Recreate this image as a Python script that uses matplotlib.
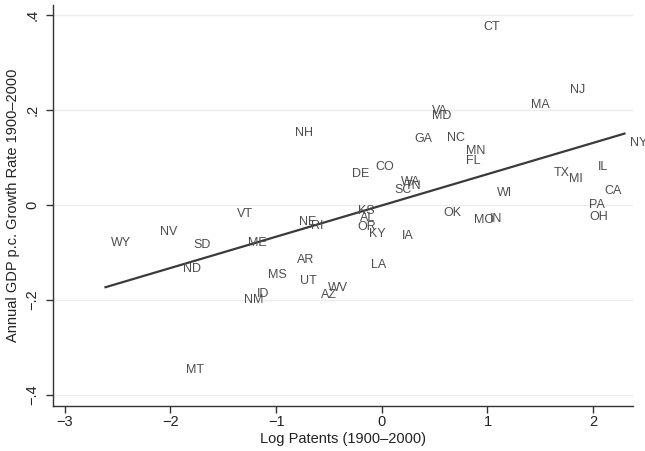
import matplotlib
matplotlib.use("Agg")
import matplotlib.pyplot as plt
import numpy as np

plt.rcParams['font.family'] = ['Liberation Sans', 'DejaVu Sans']

# state labels with log patents (x) and annual GDP p.c. growth (y)
states = ['AL', 'AZ', 'AR', 'CA', 'CO', 'CT', 'DE', 'FL', 'GA', 'ID',
          'IL', 'IN', 'IA', 'KS', 'KY', 'LA', 'ME', 'MD', 'MA', 'MI',
          'MN', 'MS', 'MO', 'MT', 'NE', 'NV', 'NH', 'NJ', 'NM', 'NY',
          'NC', 'ND', 'OH', 'OK', 'OR', 'PA', 'RI', 'SC', 'SD', 'TN',
          'TX', 'UT', 'VT', 'VA', 'WA', 'WV', 'WI', 'WY']
log_patents = [-0.252, -0.621, -0.857, 2.060, -0.112, 0.908, -0.332, 0.745, 0.262, -1.236,
               1.996, 0.972, 0.144, -0.277, -0.170, -0.148, -1.315, 0.430, 1.360, 1.722,
               0.745, -1.126, 0.820, -1.904, -0.833, -2.148, -0.873, 1.735, -1.351, 2.296,
               0.571, -1.930, 1.911, 0.536, -0.277, 1.911, -0.715, 0.066, -1.835, 0.170,
               1.577, -0.826, -1.422, 0.420, 0.130, -0.558, 1.035, -2.614]
growth = [-0.028, -0.190, -0.115, 0.030, 0.080, 0.376, 0.066, 0.093, 0.139, -0.188,
          0.081, -0.030, -0.066, -0.013, -0.061, -0.127, -0.081, 0.188, 0.211, 0.055,
          0.115, -0.148, -0.031, -0.348, -0.036, -0.056, 0.152, 0.243, -0.200, 0.131,
          0.142, -0.135, -0.026, -0.016, -0.047, 0.001, -0.044, 0.032, -0.084, 0.040,
          0.068, -0.160, -0.018, 0.198, 0.049, -0.176, 0.026, -0.081]

xticks = [-3, -2, -1, 0, 1, 2]
yticks = [-0.4, -0.2, 0, 0.2, 0.4]
ytick_labels = ['\u2212.4', '\u2212.2', '0', '.2', '.4']

fig = plt.figure(figsize=(6.45, 4.51), dpi=100)
ax = fig.add_axes([0.0826, 0.1004, 0.8988, 0.8885])

x = np.array(log_patents)
y = np.array(growth)

# linear fit over the data range
slope, intercept = np.polyfit(x, y, 1)
xs = np.array([x.min(), x.max()])
ax.plot(xs, intercept + slope * xs, color='#3a3a3a', lw=1.6, zorder=3)

# labels sit just right of each (invisible) point
for name, xi, yi in zip(states, x, y):
    ax.annotate(name, (xi, yi), xytext=(3.8, 0), textcoords='offset points',
                ha='left', va='center', fontsize=9, color='#4d4d4d', zorder=4)

ax.set_xlim(-3.108, 2.377)
ax.set_ylim(-0.4234, 0.422)
ax.set_xticks(xticks)
ax.set_xticklabels([str(t).replace('-', '\u2212') for t in xticks])
ax.set_yticks(yticks)
ax.set_yticklabels(ytick_labels, rotation=90, va='center')
ax.grid(axis='y', color='#ececec', lw=1.0)
ax.set_axisbelow(True)

for side in ['top', 'right']:
    ax.spines[side].set_visible(False)
for side in ['left', 'bottom']:
    ax.spines[side].set_color('#333333')
    ax.spines[side].set_linewidth(1.0)
ax.tick_params(length=5, width=1.0, color='#333333', labelsize=10.5,
               labelcolor='#222222')
ax.tick_params(axis='y', pad=5)
ax.tick_params(axis='x', pad=2)

ax.set_xlabel('Log Patents (1900\u20132000)', fontsize=10.5, color='#222222', labelpad=2)
ax.set_ylabel('Annual GDP p.c. Growth Rate 1900\u20132000', fontsize=10.5,
              color='#222222', labelpad=4)

fig.savefig('out.png', dpi=100)
